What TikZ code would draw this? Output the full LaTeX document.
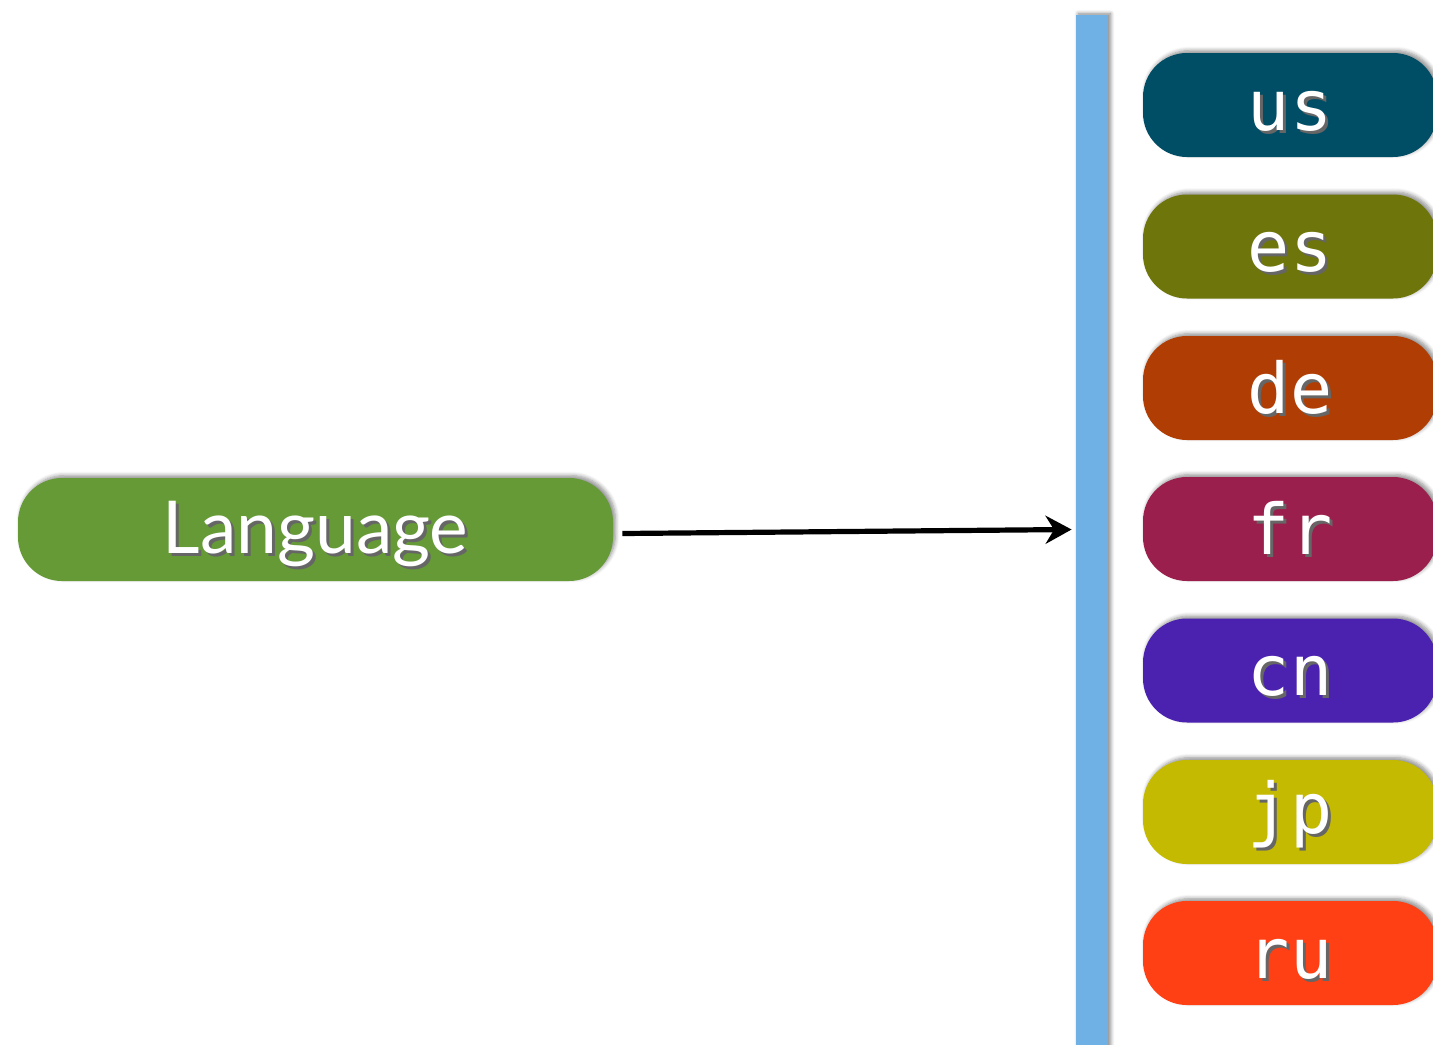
\documentclass[tikz,border=0pt]{standalone}
\usepackage{fontspec}
\usetikzlibrary{arrows.meta,shadows.blur,calc}
\setmainfont{Lato}
\newfontfamily\codefont{DejaVu Sans Mono}

\definecolor{langgreen}{HTML}{659A37}
\definecolor{barblue}{HTML}{6FB0E5}
\definecolor{cUS}{HTML}{004D66}
\definecolor{cES}{HTML}{6E750A}
\definecolor{cDE}{HTML}{B03E04}
\definecolor{cFR}{HTML}{9B1F4C}
\definecolor{cCN}{HTML}{4B22B0}
\definecolor{cJP}{HTML}{C4BA02}
\definecolor{cRU}{HTML}{FF3F14}

% white label with a dark drop shadow; its baseline sits #1 below the pill's centre
\newcommand{\pilltext}[2]{\raisebox{-#1}[0pt][0pt]{%
  \rlap{\raisebox{-1.5pt}{\hspace{1.5pt}\textcolor{black!60}{#2}}}%
  \textcolor{white}{#2}}}

\tikzset{
  pill/.style={rounded corners=22pt, inner sep=0pt,
    blur shadow={shadow xshift=1.2pt, shadow yshift=1.2pt,
      shadow blur steps=6, shadow blur extra rounding=1pt, shadow opacity=45}},
  langbox/.style={pill, fill=langgreen, minimum width=297.5pt, minimum height=51.5pt,
    font=\fontsize{36.5}{36.5}\selectfont},
  codebox/.style={pill, fill=#1, minimum width=147pt, minimum height=52pt,
    font=\codefont\fontsize{35}{35}\selectfont},
  wall/.style={fill=barblue, inner sep=0pt, minimum width=16pt, minimum height=520pt,
    blur shadow={shadow xshift=1.2pt, shadow yshift=0.8pt,
      shadow blur steps=5, shadow opacity=50}},
  link/.style={line width=2.6pt, -{Stealth[length=13pt,width=14pt]}}
}

\begin{document}
\begin{tikzpicture}[x=0.5pt, y=-0.5pt]
  \useasboundingbox (0,0) rectangle (1433,1044);
  \clip (0,0) rectangle (1433,1044);

  % the language source
  \node[langbox] (lang) at (315.5,529.5) {\pilltext{11.75pt}{Language}};

  % the vertical bar the codes hang on
  \node[wall, anchor=north] (bar) at (1092,15) {};

  % locale codes
  \node[codebox=cUS] (us) at (1290,105)   {\pilltext{12.5pt}{us}};
  \node[codebox=cES] (es) at (1290,246.5) {\pilltext{12.5pt}{es}};
  \node[codebox=cDE] (de) at (1290,388)   {\pilltext{12.5pt}{de}};
  \node[codebox=cFR] (fr) at (1290,529)   {\pilltext{12.5pt}{fr}};
  \node[codebox=cCN] (cn) at (1290,670.5) {\pilltext{12.5pt}{cn}};
  \node[codebox=cJP] (jp) at (1290,812)   {\pilltext{10.5pt}{jp}};
  \node[codebox=cRU] (ru) at (1290,953)   {\pilltext{12.5pt}{ru}};

  % connector from the language box to the bar
  \draw[link] ($(lang.east)+(9,4)$) -- ($(bar.west |- lang.east)+(-4,0)$);
\end{tikzpicture}
\end{document}
